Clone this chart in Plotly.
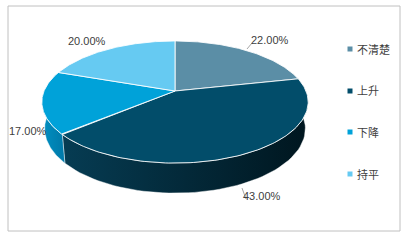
import numpy as np
import plotly.graph_objects as go

# ---------------- data ----------------
categories = ["不清楚", "上升", "下降", "持平"]
values = [22, 43, 17, 20]
label_texts = [f"{v:.2f}%" for v in values]

# ---------------- style ----------------
top_colors = ["#5b8ea6", "#024d6a", "#00a2d9", "#66caf2"]
side_scales = [
    [[0, "#3f6f86"], [1, "#2a5568"]],
    [[0, "#063c53"], [1, "#00161f"]],
    [[0, "#0090c2"], [1, "#0078a8"]],
    [[0, "#4fb6dd"], [1, "#3aa0c8"]],
]
FONT = "Liberation Sans, Arial, Noto Sans CJK SC, sans-serif"
TXT = "#404040"

# perspective camera for the 3D pie (pixel space)
CX, CY, S = 175.0, 91.0, 131.0
EL = np.radians(26.8)
D = 4.95
H = 0.229


def proj(theta_deg, r, Y):
    t = np.radians(theta_deg)
    X = r * np.cos(t)
    Z = r * np.sin(t)
    yc = Y * np.cos(EL) + Z * np.sin(EL)
    zc = -Y * np.sin(EL) + Z * np.cos(EL)
    f = 1.0 / (1.0 + zc / D)
    return CX + S * X * f, CY - S * yc * f


total = float(sum(values))
cum = np.cumsum([0] + values)
starts = [90 - 360 * cum[i] / total for i in range(len(values))]
ends = [90 - 360 * cum[i + 1] / total for i in range(len(values))]

fig = go.Figure()

# side walls (front half only)
for i in range(len(values)):
    a, b = starts[i], ends[i]
    hi, lo = min(a, 0.0), max(b, -180.0)
    if hi - lo <= 0.01:
        continue
    th = np.linspace(hi, lo, 60)
    xt, yt = proj(th, 1.0, 0.0)
    xb, yb = proj(th[::-1], 1.0, -H)
    xs = np.concatenate([xt, xb, xt[:1]])
    ys = np.concatenate([yt, yb, yt[:1]])
    fig.add_trace(go.Scatter(
        x=xs, y=ys, mode="lines", fill="toself",
        fillgradient=dict(type="horizontal", colorscale=side_scales[i]),
        line=dict(color="rgba(255,255,255,0.55)", width=0.8),
        hoverinfo="skip", showlegend=False))

# top faces
for i in range(len(values)):
    th = np.linspace(starts[i], ends[i], 120)
    xa, ya = proj(th, 1.0, 0.0)
    x0, y0 = proj(0.0, 0.0, 0.0)
    xs = np.concatenate([[x0], xa, [x0]])
    ys = np.concatenate([[y0], ya, [y0]])
    fig.add_trace(go.Scatter(
        x=xs, y=ys, mode="lines", fill="toself", fillcolor=top_colors[i],
        line=dict(color="rgba(255,255,255,0.85)", width=1),
        name=categories[i], hoverinfo="name", showlegend=False))

# data labels
label_pos = [(270, 40, "center"), (262, 196, "center"), (28, 131, "center"), (87, 41, "center")]
for i, (lx, ly, anc) in enumerate(label_pos):
    fig.add_annotation(x=lx, y=ly, text=label_texts[i], showarrow=False,
                       xanchor=anc, yanchor="middle",
                       font=dict(family=FONT, size=11, color=TXT))

# leader lines
fig.add_shape(type="line", x0=247, y0=49, x1=252, y1=43,
              line=dict(color="#a6a6a6", width=1))
fig.add_shape(type="line", x0=242, y0=188, x1=246, y1=199,
              line=dict(color="#a6a6a6", width=1))

# legend (manual)
leg_y = [49, 91, 132, 174]
fig.add_trace(go.Scatter(
    x=[350] * len(categories), y=leg_y, mode="markers",
    marker=dict(symbol="square", size=5, color=top_colors, line=dict(width=0)),
    hoverinfo="skip", showlegend=False))
for i, c in enumerate(categories):
    fig.add_annotation(x=355, y=leg_y[i], text=c, showarrow=False,
                       xanchor="left", yanchor="middle",
                       font=dict(family=FONT, size=11, color=TXT))

# frame
fig.add_shape(type="rect", x0=8, y0=6, x1=400, y1=231,
              line=dict(color="#c0c0c0", width=1), layer="below")

fig.update_layout(
    width=404, height=240,
    margin=dict(l=0, r=0, t=0, b=0),
    paper_bgcolor="white", plot_bgcolor="white",
    xaxis=dict(range=[0, 404], visible=False, fixedrange=True),
    yaxis=dict(range=[240, 0], visible=False, fixedrange=True),
    showlegend=False,
)

fig.write_html("out.html")
